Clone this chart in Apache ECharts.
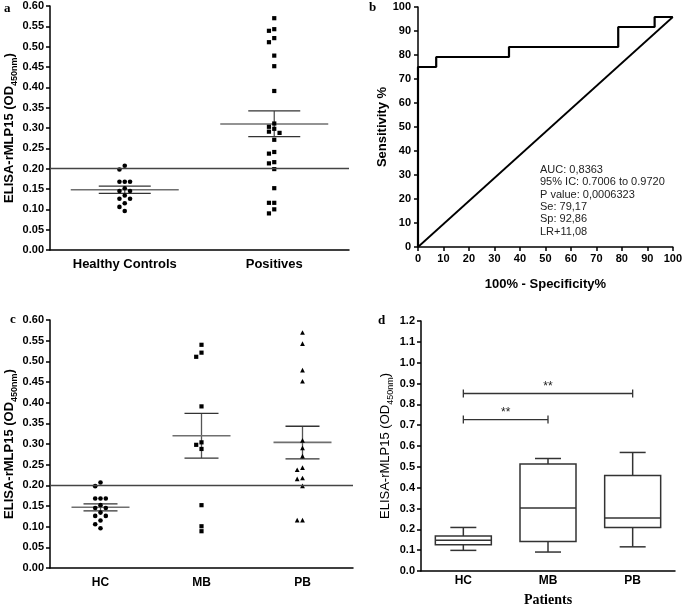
<!DOCTYPE html>
<html><head><meta charset="utf-8">
<script src="https://cdn.jsdelivr.net/npm/echarts@6/dist/echarts.min.js"></script>
<style>html,body{margin:0;padding:0;background:#fff}#c{width:685px;height:608px}</style>
</head><body><div id="c"></div>
<script>
// ---------------- data ----------------
// panel a
const catsA = ['Healthy Controls', 'Positives'];
const hcValues = [0.207, 0.198, 0.168, 0.168, 0.168, 0.152, 0.145, 0.145, 0.134, 0.126, 0.126, 0.115, 0.106, 0.096];
const positiveValues = [0.570, 0.543, 0.539, 0.521, 0.511, 0.478, 0.452, 0.391, 0.311, 0.303, 0.298, 0.291, 0.288, 0.271,
  0.241, 0.237, 0.216, 0.213, 0.199, 0.152, 0.116, 0.116, 0.100, 0.090];
const meanA = [0.148, 0.310];
const semHighA = [0.157, 0.342];
const semLowA = [0.139, 0.279];
const cutoffValue = 0.20;
const ticksA = {min: 0, max: 0.6, step: 0.05};

// panel b (ROC)
const rocX = [0, 0, 7.14, 7.14, 35.71, 35.71, 78.57, 78.57, 92.86, 92.86, 100];
const rocY = [0, 75, 75, 79.17, 79.17, 83.33, 83.33, 91.67, 91.67, 95.83, 95.83];
const diagX = [0, 100];
const diagY = [0, 95.83];
const rocStats = ['AUC: 0,8363', '95% IC: 0.7006 to 0.9720', 'P value: 0,0006323', 'Se: 79,17', 'Sp: 92,86', 'LR+11,08'];

// panel c
const catsC = ['HC', 'MB', 'PB'];
const mbValues = [0.540, 0.521, 0.511, 0.391, 0.304, 0.298, 0.288, 0.152, 0.101, 0.089];
const pbValues = [0.569, 0.542, 0.478, 0.451, 0.308, 0.290, 0.270, 0.242, 0.237, 0.217, 0.215, 0.198, 0.115, 0.115];
const meanC = [0.147, 0.320, 0.304];
const semHighC = [0.155, 0.374, 0.343];
const semLowC = [0.138, 0.266, 0.264];

// panel d (box plot)
const catsD = ['HC', 'MB', 'PB'];
const boxMin = [0.099, 0.091, 0.116];
const boxQ1 = [0.126, 0.142, 0.209];
const boxMedian = [0.148, 0.302, 0.255];
const boxQ3 = [0.168, 0.514, 0.458];
const boxMax = [0.209, 0.540, 0.569];
const sigFrom = ['HC', 'HC'];
const sigTo = ['PB', 'MB'];
const sigY = [0.852, 0.727];
const sigText = ['**', '**'];

// ---------------- layout / style ----------------
const NARROW = "'Liberation Sans Narrow','Arial Narrow','Liberation Sans',Arial,sans-serif";
const SANS = "'Liberation Sans',Arial,sans-serif";
const SERIF = "'Liberation Serif','Times New Roman',serif";
const grids = [
  {left: 50, top: 6, width: 299, height: 244},
  {left: 418, top: 7, width: 257, height: 240},
  {left: 50, top: 320, width: 303, height: 248},
  {left: 421, top: 321, width: 254, height: 254}
];
const AX = {color: '#000', width: 1.5};

function swarm(values, pxPerUnit, sym) {
  const placed = [], cols = [];
  const order = [0, -1, 1, -2, 2, -3, 3];
  values.forEach(v => {
    const y = v * pxPerUnit;
    for (const c of order) {
      if (placed.every(p => p.c !== c || Math.abs(p.y - y) >= sym)) {
        placed.push({c, y}); cols.push(c); break;
      }
    }
  });
  return cols;
}
function dotData(cat, values, gridH, range) {
  const cols = swarm(values, gridH / range, 4.6);
  return values.map((v, i) => [cat, v, cols[i]]);
}
function dotRenderer(shape, size, step) {
  return function (params, api) {
    const p = api.coord([api.value(0), api.value(1)]);
    const x = p[0] + api.value(2) * step, y = p[1], h = size / 2;
    if (shape === 'square') return {type: 'rect', shape: {x: x - h, y: y - h, width: size, height: size}, style: {fill: '#000'}};
    if (shape === 'circle') return {type: 'circle', shape: {cx: x, cy: y, r: h}, style: {fill: '#000'}};
    return {type: 'polygon', shape: {points: [[x, y - h - 0.6], [x - h - 0.4, y + h], [x + h + 0.4, y + h]]}, style: {fill: '#000'}};
  };
}
function meanSemRenderer(meanHalf, semHalf) {
  return function (params, api) {
    const c = api.value(0);
    const m = api.coord([c, api.value(1)]);
    const hi = api.coord([c, api.value(2)]);
    const lo = api.coord([c, api.value(3)]);
    return {type: 'group', children: [
      {type: 'line', shape: {x1: hi[0], y1: hi[1], x2: lo[0], y2: lo[1]}, style: {stroke: '#555', lineWidth: 1.3}},
      {type: 'line', shape: {x1: m[0] - meanHalf, y1: m[1], x2: m[0] + meanHalf, y2: m[1]}, style: {stroke: '#6f6f6f', lineWidth: 1.6}},
      {type: 'line', shape: {x1: hi[0] - semHalf, y1: hi[1], x2: hi[0] + semHalf, y2: hi[1]}, style: {stroke: '#333', lineWidth: 1.3}},
      {type: 'line', shape: {x1: lo[0] - semHalf, y1: lo[1], x2: lo[0] + semHalf, y2: lo[1]}, style: {stroke: '#333', lineWidth: 1.3}}
    ]};
  };
}
function boxRenderer(boxHalf, capHalf) {
  return function (params, api) {
    const c = api.value(0);
    const pMin = api.coord([c, api.value(1)]);
    const pQ1 = api.coord([c, api.value(2)]);
    const pMed = api.coord([c, api.value(3)]);
    const pQ3 = api.coord([c, api.value(4)]);
    const pMax = api.coord([c, api.value(5)]);
    const x = pMin[0];
    const st = {stroke: '#333', lineWidth: 1.5};
    return {type: 'group', children: [
      {type: 'line', shape: {x1: x, y1: pMax[1], x2: x, y2: pQ3[1]}, style: st},
      {type: 'line', shape: {x1: x, y1: pQ1[1], x2: x, y2: pMin[1]}, style: st},
      {type: 'line', shape: {x1: x - capHalf, y1: pMax[1], x2: x + capHalf, y2: pMax[1]}, style: st},
      {type: 'line', shape: {x1: x - capHalf, y1: pMin[1], x2: x + capHalf, y2: pMin[1]}, style: st},
      {type: 'rect', shape: {x: x - boxHalf, y: pQ3[1], width: boxHalf * 2, height: pQ1[1] - pQ3[1]}, style: {fill: '#fff', stroke: '#333', lineWidth: 1.5}},
      {type: 'line', shape: {x1: x - boxHalf, y1: pMed[1], x2: x + boxHalf, y2: pMed[1]}, style: st}
    ]};
  };
}
function bracketRenderer(params, api) {
  const y = api.value(2);
  const a = api.coord([api.value(0), y]);
  const b = api.coord([api.value(1), y]);
  const st = {stroke: '#333', lineWidth: 1.3};
  return {type: 'group', children: [
    {type: 'line', shape: {x1: a[0], y1: a[1], x2: b[0], y2: b[1]}, style: st},
    {type: 'line', shape: {x1: a[0], y1: a[1] - 4, x2: a[0], y2: a[1] + 4}, style: st},
    {type: 'line', shape: {x1: b[0], y1: b[1] - 4, x2: b[0], y2: b[1] + 4}, style: st},
    {type: 'text', style: {x: (a[0] + b[0]) / 2, y: a[1] - 1, text: sigText[params.dataIndex], fill: '#222',
      font: '12px ' + SANS, align: 'center', verticalAlign: 'bottom'}}
  ]};
}

function yName(size, weight) {
  return {
    color: '#000', fontFamily: NARROW,
    rich: {
      a: {fontSize: size, fontWeight: weight, fontFamily: NARROW, color: '#000', verticalAlign: 'bottom', padding: [0, 0, 3, 0]},
      s: {fontSize: Math.round(size * 0.7), fontWeight: weight, fontFamily: NARROW, color: '#000', verticalAlign: 'bottom'}
    }
  };
}
const Y_NAME = '{a|ELISA-rMLP15 (OD}{s|450nm}{a|)}';

function catAxis(gi, cats, fontSize, margin) {
  return {type: 'category', gridIndex: gi, data: cats, boundaryGap: true,
    axisLine: {lineStyle: AX}, axisTick: {alignWithLabel: true, length: 5, lineStyle: AX},
    axisLabel: {color: '#000', fontWeight: 'bold', fontSize, fontFamily: NARROW, margin}, splitLine: {show: false}};
}
function valAxis(gi, min, max, step, dec, extra) {
  return Object.assign({type: 'value', gridIndex: gi, min, max, interval: step,
    axisLine: {show: true, lineStyle: AX}, axisTick: {show: true, length: 4, lineStyle: AX},
    axisLabel: {color: '#000', fontWeight: 'bold', fontSize: 11, fontFamily: NARROW, margin: 6,
      formatter: v => v.toFixed(dec)}, splitLine: {show: false}}, extra || {});
}

const cutLine = {symbol: 'none', silent: true, label: {show: false},
  lineStyle: {color: '#444', width: 1.3, type: 'solid'}, data: [{yAxis: cutoffValue}]};

const option = {
  animation: false,
  grid: grids,
  xAxis: [
    catAxis(0, catsA, 13, 8),
    valAxis(1, 0, 100, 10, 0, {name: '100% - Specificity%', nameLocation: 'middle', nameGap: 31,
      nameTextStyle: {fontSize: 13, fontWeight: 'bold', fontFamily: NARROW, color: '#000'}}),
    catAxis(2, catsC, 12, 9),
    Object.assign(catAxis(3, catsD, 12, 4), {name: 'Patients', nameLocation: 'middle', nameGap: 22,
      nameTextStyle: {fontSize: 14, fontWeight: 'bold', fontFamily: SERIF, color: '#000'}})
  ],
  yAxis: [
    valAxis(0, ticksA.min, ticksA.max, ticksA.step, 2, {name: Y_NAME, nameLocation: 'middle', nameRotate: 90, nameGap: 31, nameTextStyle: yName(13, 'bold')}),
    valAxis(1, 0, 100, 10, 0, {name: 'Sensitivity %', nameLocation: 'middle', nameRotate: 90, nameGap: 29,
      nameTextStyle: {fontSize: 13, fontWeight: 'bold', fontFamily: NARROW, color: '#000'}, axisLabel: {color: '#000', fontWeight: 'bold', fontSize: 11, fontFamily: NARROW, margin: 7}}),
    valAxis(2, ticksA.min, ticksA.max, ticksA.step, 2, {name: Y_NAME, nameLocation: 'middle', nameRotate: 90, nameGap: 31, nameTextStyle: yName(13, 'bold')}),
    valAxis(3, 0, 1.2, 0.1, 1, {name: Y_NAME, nameLocation: 'middle', nameRotate: 90, nameGap: 26, nameTextStyle: yName(13, 'normal')})
  ],
  series: [
    // panel a
    {type: 'custom', xAxisIndex: 0, yAxisIndex: 0, renderItem: meanSemRenderer(54, 26), encode: {x: 0, y: [1, 2, 3]},
      data: catsA.map((c, i) => [i, meanA[i], semHighA[i], semLowA[i]]), markLine: cutLine, z: 2},
    {type: 'custom', xAxisIndex: 0, yAxisIndex: 0, renderItem: dotRenderer('circle', 4.6, 5.3), encode: {x: 0, y: 1},
      data: dotData(0, hcValues, grids[0].height, 0.6), z: 3},
    {type: 'custom', xAxisIndex: 0, yAxisIndex: 0, renderItem: dotRenderer('square', 4.2, 5.3), encode: {x: 0, y: 1},
      data: dotData(1, positiveValues, grids[0].height, 0.6), z: 3},
    // panel b
    {type: 'line', xAxisIndex: 1, yAxisIndex: 1, data: diagX.map((x, i) => [x, diagY[i]]), symbol: 'none',
      lineStyle: {color: '#000', width: 1.8}},
    {type: 'line', xAxisIndex: 1, yAxisIndex: 1, data: rocX.map((x, i) => [x, rocY[i]]), symbol: 'none',
      lineStyle: {color: '#000', width: 2.2}},
    // panel c
    {type: 'custom', xAxisIndex: 2, yAxisIndex: 2, renderItem: meanSemRenderer(29, 17), encode: {x: 0, y: [1, 2, 3]},
      data: catsC.map((c, i) => [i, meanC[i], semHighC[i], semLowC[i]]), markLine: cutLine, z: 2},
    {type: 'custom', xAxisIndex: 2, yAxisIndex: 2, renderItem: dotRenderer('circle', 4.6, 5.3), encode: {x: 0, y: 1},
      data: dotData(0, hcValues, grids[2].height, 0.6), z: 3},
    {type: 'custom', xAxisIndex: 2, yAxisIndex: 2, renderItem: dotRenderer('square', 4.2, 5.3), encode: {x: 0, y: 1},
      data: dotData(1, mbValues, grids[2].height, 0.6), z: 3},
    {type: 'custom', xAxisIndex: 2, yAxisIndex: 2, renderItem: dotRenderer('triangle', 4.0, 5.3), encode: {x: 0, y: 1},
      data: dotData(2, pbValues, grids[2].height, 0.6), z: 3},
    // panel d
    {type: 'custom', xAxisIndex: 3, yAxisIndex: 3, renderItem: boxRenderer(28, 13), encode: {x: 0, y: [1, 2, 3, 4, 5]},
      data: catsD.map((c, i) => [i, boxMin[i], boxQ1[i], boxMedian[i], boxQ3[i], boxMax[i]])},
    {type: 'custom', xAxisIndex: 3, yAxisIndex: 3, renderItem: bracketRenderer, encode: {x: [0, 1], y: 2},
      data: sigFrom.map((f, i) => [catsD.indexOf(f), catsD.indexOf(sigTo[i]), sigY[i]])}
  ],
  graphic: [
    {type: 'text', left: 4, top: 2, style: {text: 'a', font: 'bold 13px ' + SERIF, fill: '#000'}},
    {type: 'text', left: 369, top: 1, style: {text: 'b', font: 'bold 13px ' + SERIF, fill: '#000'}},
    {type: 'text', left: 10, top: 313, style: {text: 'c', font: 'bold 13px ' + SERIF, fill: '#000'}},
    {type: 'text', left: 378, top: 314, style: {text: 'd', font: 'bold 13px ' + SERIF, fill: '#000'}},
    {type: 'text', left: 540, top: 164, style: {text: rocStats.join('\n'), font: '11px ' + SANS, fill: '#222', lineHeight: 12.3}}
  ]
};
const chart = echarts.init(document.getElementById('c'), null, {renderer: 'canvas'});
chart.setOption(option);
</script></body></html>
